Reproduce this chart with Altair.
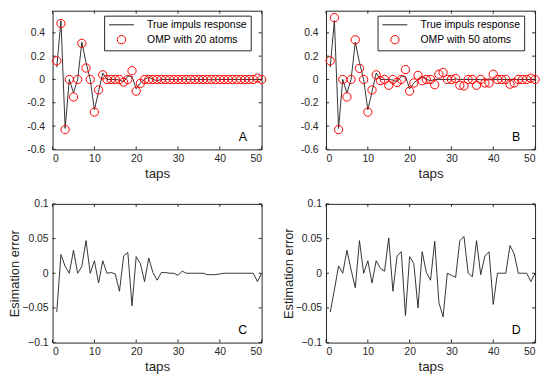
import altair as alt
import pandas as pd

# ---------------- data ----------------
taps = list(range(1, 51))

true_resp = [0.105, 0.505, -0.42, 0.0, -0.115, 0.0, 0.32, 0.145, 0.0, -0.26,
             -0.105, 0.055, 0.0, 0.0, 0.0, -0.005, -0.02, 0.028, 0.027, -0.08,
             -0.03, 0.0, 0.02, 0.0, -0.01, 0.0, 0.0, 0.0, 0.0, -0.003,
             0.003, 0.0, 0.0, 0.0, 0.0, 0.0, -0.002, -0.002, -0.002, -0.001,
             0.0, 0.0, 0.0, 0.0, 0.0, 0.0, 0.0, 0.0, 0.0, 0.0]

omp20 = [0.16, 0.48, -0.43, 0.0, -0.15, 0.0, 0.31, 0.098, 0.0, -0.28,
         -0.09, 0.04, 0.0, 0.0, 0.0, 0.0, -0.023, 0.0, 0.075, -0.1,
         -0.033, 0.0, 0.0, 0.0, 0.0, 0.0, 0.0, 0.0, 0.0, 0.0,
         0.0, 0.0, 0.0, 0.0, 0.0, 0.0, 0.0, 0.0, 0.0, 0.0,
         0.0, 0.0, 0.0, 0.0, 0.0, 0.0, 0.0, 0.0, 0.012, 0.0]

omp50 = [0.16, 0.53, -0.43, 0.0, -0.15, 0.0, 0.34, 0.095, 0.0, -0.28,
         -0.09, 0.04, -0.01, 0.0, -0.05, 0.0, -0.025, 0.0, 0.085, -0.1,
         -0.03, 0.035, -0.01, 0.0, 0.0, -0.045, 0.045, 0.06, 0.0, 0.0,
         0.008, -0.05, -0.055, 0.0, 0.0, -0.05, 0.0, -0.03, -0.03, 0.045,
         0.0, 0.0, 0.0, -0.04, -0.03, 0.0, 0.0, 0.0, 0.01, 0.0]

err20 = [-0.056, 0.027, 0.01, 0.0, 0.033, 0.0, 0.01, 0.047, 0.0, 0.018,
         -0.014, 0.018, 0.0, 0.001, -0.001, -0.026, 0.025, 0.03, -0.047, 0.024,
         0.014, -0.012, 0.022, 0.001, -0.01, 0.001, 0.001, 0.0, 0.0, -0.003,
         0.003, 0.0, 0.0, 0.0, 0.0, 0.0, -0.002, -0.002, -0.002, -0.001,
         0.0, 0.0, 0.0, 0.0, 0.0, 0.0, 0.0, 0.0, -0.012, 0.0]

err50 = [-0.056, -0.024, 0.0105, 0.0, 0.033, 0.005, -0.021, 0.047, 0.0, 0.018,
         -0.014, 0.018, 0.007, 0.003, 0.051, -0.026, 0.025, 0.031, -0.061, 0.024,
         0.014, -0.05, 0.031, 0.001, -0.01, 0.046, -0.042, -0.063, 0.0, -0.003,
         -0.006, 0.047, 0.053, 0.0, -0.005, 0.047, -0.002, 0.025, 0.031, -0.045,
         0.0, 0.0, 0.0, 0.04, 0.028, 0.0, 0.0, 0.0, -0.012, 0.0]

x_ticks = [0, 10, 20, 30, 40, 50]
y_ticks_top = [-0.6, -0.4, -0.2, 0, 0.2, 0.4]
y_ticks_bottom = [-0.1, -0.05, 0, 0.05, 0.1]

label_true = "True impuls response"
label_omp20 = "OMP with 20 atoms"
label_omp50 = "OMP with 50 atoms"
panel_letters = ["A", "B", "C", "D"]
title_x = "taps"
title_err_c = "Esimation error"
title_err_d = "Estimation error"

# ---------------- style ----------------
FONT = "Liberation Sans"
FRAME = "#262626"
W = 211
H_TOP = 140
H_BOT = 140
TICK = 3
X_DOM = [0, 50]
Y_DOM_TOP = [-0.6, 0.59]
Y_DOM_BOT = [-0.1, 0.1]


def xscale():
    return alt.Scale(domain=X_DOM, nice=False, zero=False)


def yscale(dom):
    return alt.Scale(domain=dom, nice=False, zero=False)


X_AXIS = alt.Axis(values=x_ticks, format="d", ticks=False, domain=False, grid=False,
                  labelPadding=4, title=title_x, titlePadding=3)


def tick_layers(ydom, yticks, H, xax, yax):
    xdf = pd.DataFrame({"tap": x_ticks})
    ydf = pd.DataFrame({"val": yticks})
    rx = alt.Chart(xdf).mark_rule(color=FRAME, strokeWidth=1)
    ry = alt.Chart(ydf).mark_rule(color=FRAME, strokeWidth=1)
    xe = alt.X("tap:Q", scale=xscale(), axis=xax)
    ye = alt.Y("val:Q", scale=yscale(ydom), axis=yax)
    return [
        rx.encode(x=xe, y=alt.value(H), y2=alt.value(H - TICK)),
        rx.encode(x=xe, y=alt.value(0), y2=alt.value(TICK)),
        ry.encode(y=ye, x=alt.value(0), x2=alt.value(TICK)),
        ry.encode(y=ye, x=alt.value(W), x2=alt.value(W - TICK)),
    ]


def letter_layer(letter, H, dy):
    df = pd.DataFrame({"lab": [letter]})
    return alt.Chart(df).mark_text(font=FONT, fontSize=12.5, color="black",
                                   align="center", baseline="middle").encode(
        text="lab:N", x=alt.value(192), y=alt.value(H - dy))


def top_panel(est, est_label, letter):
    line_df = pd.DataFrame({"tap": taps, "val": true_resp})
    pts_df = pd.DataFrame({"tap": taps, "val": est, "series": [est_label] * len(taps)})
    yax = alt.Axis(values=y_ticks_top, format="~g", ticks=False, domain=False, grid=False,
                   labelPadding=8, title=None,
                   labelExpr="replace(datum.label, '\u2212', '-')")
    dom = [label_true, est_label]
    leg = alt.Legend(title=None, orient="none", legendX=52, legendY=5, direction="vertical",
                     fillColor="white", strokeColor=FRAME, padding=4, rowPadding=3,
                     labelFont=FONT, labelFontSize=10.5, labelColor="black",
                     symbolSize=70, symbolOffset=8.3, labelOffset=20.6,
                     symbolStrokeWidth=1,
                     labelExpr="datum.label + '             '")
    line = alt.Chart(line_df).mark_line(color="#1e1e1e", strokeWidth=0.9).encode(
        x=alt.X("tap:Q", scale=xscale(), axis=X_AXIS),
        y=alt.Y("val:Q", scale=yscale(Y_DOM_TOP), axis=yax),
    )
    pts = alt.Chart(pts_df).mark_point(filled=False, strokeWidth=1, opacity=1, size=70).encode(
        x=alt.X("tap:Q", scale=xscale(), axis=X_AXIS),
        y=alt.Y("val:Q", scale=yscale(Y_DOM_TOP), axis=yax),
        color=alt.Color("series:N", scale=alt.Scale(domain=dom, range=["#1e1e1e", "#ff0000"]), legend=leg),
        shape=alt.Shape("series:N", scale=alt.Scale(domain=dom, range=["M-3,0H3", "circle"]), legend=leg),
    )
    return alt.layer(line, pts, *tick_layers(Y_DOM_TOP, y_ticks_top, H_TOP, X_AXIS, yax),
                     letter_layer(letter, H_TOP, 12)).properties(width=W, height=H_TOP)


def bottom_panel(err, ytitle, letter):
    df = pd.DataFrame({"tap": taps, "val": err})
    yax = alt.Axis(values=y_ticks_bottom, format="~g", ticks=False, domain=False, grid=False,
                   labelPadding=4.5, title=ytitle, titlePadding=0, titleFontSize=13)
    line = alt.Chart(df).mark_line(color="#1e1e1e", strokeWidth=0.9).encode(
        x=alt.X("tap:Q", scale=xscale(), axis=X_AXIS),
        y=alt.Y("val:Q", scale=yscale(Y_DOM_BOT), axis=yax),
    )
    return alt.layer(line, *tick_layers(Y_DOM_BOT, y_ticks_bottom, H_BOT, X_AXIS, yax),
                     letter_layer(letter, H_BOT, 13)).properties(width=W, height=H_BOT)


pA = top_panel(omp20, label_omp20, panel_letters[0])
pB = top_panel(omp50, label_omp50, panel_letters[1])
pC = bottom_panel(err20, title_err_c, panel_letters[2])
pD = bottom_panel(err50, title_err_d, panel_letters[3])

chart = alt.concat(pA, pB, pC, pD, columns=2, spacing={"row": 55, "column": 65},
                   bounds="flush").resolve_scale(color="independent", shape="independent").properties(
    padding={"left": 0, "top": 0, "right": 0, "bottom": 0}
).configure_view(stroke=FRAME, strokeWidth=1).configure_axis(
    labelFont=FONT, titleFont=FONT, labelColor=FRAME, titleColor=FRAME,
    labelFontSize=10.5, titleFontSize=13.5, titleFontWeight="normal", grid=False
)

chart.save("out.html", embed_options={"renderer": "svg", "actions": False})
